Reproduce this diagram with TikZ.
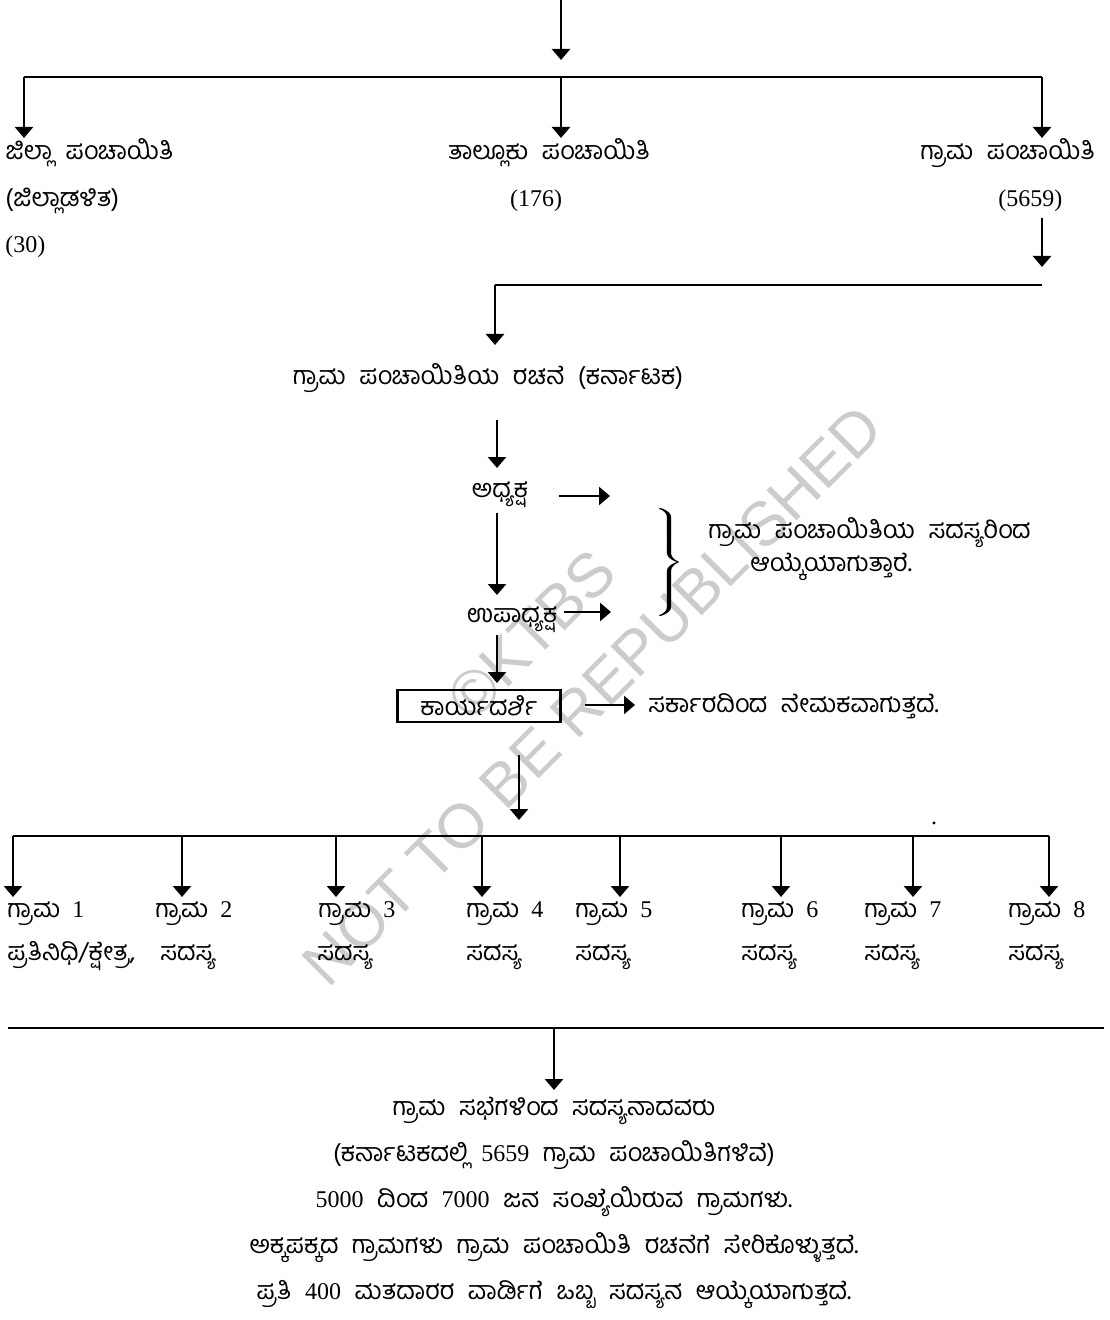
\documentclass[tikz,border=0pt]{standalone}
\usepackage{fontspec}
\setmainfont{Liberation Serif}
\newfontfamily\kn[Script=Kannada, Scale=1.05, WordSpace=2.2]{Hind Mysuru}
\newfontfamily\markfont{Liberation Sans}
\usetikzlibrary{arrows.meta, positioning, decorations.pathreplacing}

\begin{document}
\begin{tikzpicture}[x=0.5pt, y=-0.5pt, >={Triangle[length=5.5pt,width=9pt]},
  every node/.style={font=\fontsize{12}{14}\selectfont, inner sep=0pt},
  arr/.style={draw, line width=1.3pt, ->},
  bus/.style={draw, line width=1.4pt},
  lbl/.style={anchor=base west}]

\useasboundingbox (0,0) rectangle (1109,1320);

\node [rotate=45, text=black!20, align=center, font=\markfont\fontsize{31}{43}\selectfont](mark) at (562,665) {\textcopyright KTBS\\NOT TO BE REPUBLISHED};

\coordinate (start) at (561,0);
\coordinate (start tip) at (561,60);
\path [arr] (start)--(start tip);

\coordinate (bus l) at (24,77);
\coordinate (bus m) at (561,77);
\coordinate (bus r) at (1042,77);
\path [bus] (bus l)--(bus r);
\coordinate (zilla tip) at (24,138);
\coordinate (taluk tip) at (561,138);
\coordinate (grama tip) at (1042,138);
\path [arr] (bus l)--(zilla tip);
\path [arr] (bus m)--(taluk tip);
\path [arr] (bus r)--(grama tip);

\node [lbl](zilla) at (5,160) {\kn ಜಿಲ್ಲಾ ಪಂಚಾಯಿತಿ};
\node [lbl](zilla admin) at (5,207) {\kn (ಜಿಲ್ಲಾಡಳಿತ)};
\node [lbl](zilla count) at (5,253) {(30)};
\node [anchor=base](taluk) at (549,160) {\kn ತಾಲ್ಲೂಕು ಪಂಚಾಯಿತಿ};
\node [anchor=base](taluk count) at (536,207) {(176)};
\node [lbl](grama) at (920,160) {\kn ಗ್ರಾಮ ಪಂಚಾಯಿತಿ};
\node [lbl](grama count) at (998,207) {(5659)};

\coordinate (grama out) at (1042,218);
\coordinate (grama out tip) at (1042,267);
\path [arr] (grama out)--(grama out tip);
\coordinate (bus2 r) at (1042,285);
\coordinate (bus2 l) at (495,285);
\coordinate (title tip) at (495,345);
\path [bus] (bus2 r)--(bus2 l);
\path [arr] (bus2 l)--(title tip);

\node [anchor=base](title) at (488,385) {\kn ಗ್ರಾಮ ಪಂಚಾಯಿತಿಯ ರಚನೆ (ಕರ್ನಾಟಕ)};

\coordinate (chair in) at (497,420);
\coordinate (chair tip) at (497,468);
\path [arr] (chair in)--(chair tip);
\node [anchor=base](chair) at (500,497) {\kn ಅಧ್ಯಕ್ಷ};
\coordinate (chair out) at (559,496);
\coordinate (chair end) at (610,496);
\path [arr] (chair out)--(chair end);

\coordinate (vice in) at (497,513);
\coordinate (vice tip) at (497,595);
\path [arr] (vice in)--(vice tip);
\node [anchor=base](vice) at (512,622) {\kn ಉಪಾಧ್ಯಕ್ಷ};
\coordinate (vice out) at (564,612);
\coordinate (vice end) at (611,612);
\path [arr] (vice out)--(vice end);

\node [xscale=1.8](brace) at (667,562) {$\left.\vrule height 24pt depth 24pt width 0pt\right\}$};
\node [lbl](elected) at (708,538) {\kn ಗ್ರಾಮ ಪಂಚಾಯಿತಿಯ ಸದಸ್ಯರಿಂದ};
\node [lbl](elected b) at (750,571) {\kn ಆಯ್ಕೆಯಾಗುತ್ತಾರೆ.};

\coordinate (sec in) at (497,635);
\coordinate (sec tip) at (497,683);
\path [arr] (sec in)--(sec tip);
\node [draw, line width=1.3pt, minimum width=81.5pt, minimum height=16pt](secretary) at (479,706) {\kn ಕಾರ್ಯದರ್ಶಿ};
\coordinate (sec out) at (585,705);
\coordinate (sec end) at (635,705);
\path [arr] (sec out)--(sec end);
\node [lbl](appointed) at (648,712) {\kn ಸರ್ಕಾರದಿಂದ ನೇಮಕವಾಗುತ್ತದೆ.};

\coordinate (down in) at (519,755);
\coordinate (down tip) at (519,820);
\path [arr] (down in)--(down tip);
\node [anchor=base](stray dot) at (934,824) {.};

\coordinate (v1 top) at (13,836);
\coordinate (v2 top) at (182,836);
\coordinate (v3 top) at (336,836);
\coordinate (v4 top) at (482,836);
\coordinate (v5 top) at (620,836);
\coordinate (v6 top) at (781,836);
\coordinate (v7 top) at (913,836);
\coordinate (v8 top) at (1049,836);
\path [bus] (v1 top)--(v8 top);
\coordinate (v1 tip) at (13,897);
\coordinate (v2 tip) at (182,897);
\coordinate (v3 tip) at (336,897);
\coordinate (v4 tip) at (482,897);
\coordinate (v5 tip) at (620,897);
\coordinate (v6 tip) at (781,897);
\coordinate (v7 tip) at (913,897);
\coordinate (v8 tip) at (1049,897);
\path [arr] (v1 top)--(v1 tip);
\path [arr] (v2 top)--(v2 tip);
\path [arr] (v3 top)--(v3 tip);
\path [arr] (v4 top)--(v4 tip);
\path [arr] (v5 top)--(v5 tip);
\path [arr] (v6 top)--(v6 tip);
\path [arr] (v7 top)--(v7 tip);
\path [arr] (v8 top)--(v8 tip);

\node [lbl](v1) at (7,917) {{\kn ಗ್ರಾಮ}\hspace{6pt}1};
\node [lbl](v2) at (155,917) {{\kn ಗ್ರಾಮ}\hspace{6pt}2};
\node [lbl](v3) at (318,917) {{\kn ಗ್ರಾಮ}\hspace{6pt}3};
\node [lbl](v4) at (466,917) {{\kn ಗ್ರಾಮ}\hspace{6pt}4};
\node [lbl](v5) at (575,917) {{\kn ಗ್ರಾಮ}\hspace{6pt}5};
\node [lbl](v6) at (741,917) {{\kn ಗ್ರಾಮ}\hspace{6pt}6};
\node [lbl](v7) at (864,917) {{\kn ಗ್ರಾಮ}\hspace{6pt}7};
\node [lbl](v8) at (1008,917) {{\kn ಗ್ರಾಮ}\hspace{6pt}8};
\node [lbl](v1 role) at (7,960) {\kn ಪ್ರತಿನಿಧಿ/ಕ್ಷೇತ್ರ,};
\node [lbl](v2 role) at (160,960) {\kn ಸದಸ್ಯ};
\node [lbl](v3 role) at (317,960) {\kn ಸದಸ್ಯ};
\node [lbl](v4 role) at (466,960) {\kn ಸದಸ್ಯ};
\node [lbl](v5 role) at (575,960) {\kn ಸದಸ್ಯ};
\node [lbl](v6 role) at (741,960) {\kn ಸದಸ್ಯ};
\node [lbl](v7 role) at (864,960) {\kn ಸದಸ್ಯ};
\node [lbl](v8 role) at (1008,960) {\kn ಸದಸ್ಯ};

\coordinate (foot l) at (8,1028);
\coordinate (foot m) at (554,1028);
\coordinate (foot r) at (1104,1028);
\coordinate (foot tip) at (554,1090);
\path [bus] (foot l)--(foot r);
\path [arr] (foot m)--(foot tip);

\node [anchor=base](sabha) at (554,1115) {\kn ಗ್ರಾಮ ಸಭೆಗಳಿಂದ ಸದಸ್ಯನಾದವರು};
\node [anchor=base](state count) at (554,1161) {{\kn (ಕರ್ನಾಟಕದಲ್ಲಿ }5659{\kn\ ಗ್ರಾಮ ಪಂಚಾಯಿತಿಗಳಿವೆ)}};
\node [anchor=base](population) at (554,1207) {5000{\kn\ ದಿಂದ }7000{\kn\ ಜನ ಸಂಖ್ಯೆಯಿರುವ ಗ್ರಾಮಗಳು.}};
\node [anchor=base](nearby) at (554,1253) {\kn ಅಕ್ಕಪಕ್ಕದ ಗ್ರಾಮಗಳು ಗ್ರಾಮ ಪಂಚಾಯಿತಿ ರಚನೆಗೆ ಸೇರಿಕೊಳ್ಳುತ್ತದೆ.};
\node [anchor=base](ward) at (554,1299) {{\kn ಪ್ರತಿ }400{\kn\ ಮತದಾರರ ವಾರ್ಡಿಗೆ ಒಬ್ಬ ಸದಸ್ಯನ ಆಯ್ಕೆಯಾಗುತ್ತದೆ.}};
\end{tikzpicture}
\end{document}
